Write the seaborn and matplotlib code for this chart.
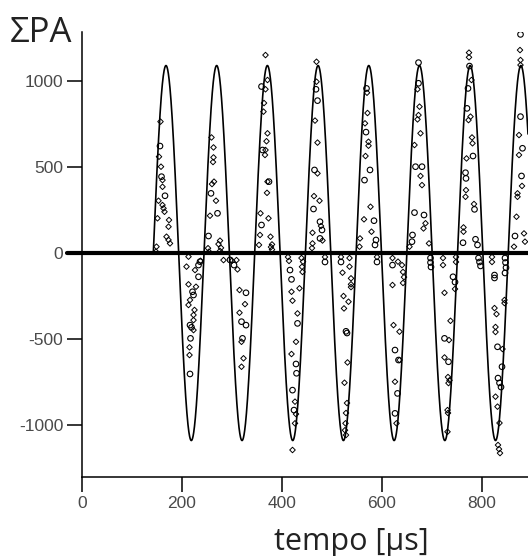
import numpy as np
import seaborn as sns
import matplotlib
matplotlib.use("Agg")
import matplotlib.pyplot as plt

# fitted sinusoid
amplitude = 1090
period = 101.4        # us
t_start = 142.6       # us, curve begins here going up
t_end = 892

# measured points, small diamonds
diamond_t = [
    157, 154, 158, 161, 161, 153, 161, 163, 165, 151, 174, 173, 169, 173, 176, 149, 148,
    259, 263, 263, 262, 264, 260, 268, 256, 276, 273, 278, 252, 254, 276,
    367, 371, 367, 364, 363, 371, 369, 367, 366, 371, 370, 373, 357, 356, 377, 380, 354, 378, 380,
    469, 469, 466, 471, 471, 464, 475, 478, 461, 481, 461, 460,
    570, 571, 566, 573, 573, 567, 577, 564, 579, 556, 555,
    671, 675, 673, 671, 677, 665, 677, 680, 687, 683, 694, 655,
    774, 774, 779, 777, 773, 780, 781, 769, 768, 767, 784, 763, 763,
    876, 877, 877, 874, 874, 880, 871, 871, 869, 884, 886, 864,
    213, 237, 209, 226, 213, 228, 216, 213, 225, 223, 223, 223, 215, 215,
    283, 309, 300, 311, 315, 326, 315, 319, 323, 319,
    412, 414, 439, 442, 440, 441, 435, 419, 421, 431, 428, 419, 426, 428, 426, 421,
    486, 518, 535, 535, 521, 538, 538, 538, 523, 533, 524, 531, 525, 530, 528, 527, 526, 528,
    590, 621, 632, 621, 640, 642, 644, 642, 623, 635, 626, 629, 635,
    722, 722, 748, 748, 725, 746, 737, 734, 725, 732, 735, 733, 731, 732, 731,
    820, 820, 825, 829, 845, 845, 827, 827, 841, 827, 831, 835, 832, 834, 836,
]
diamond_v = [
    764, 560, 502, 424, 385, 304, 279, 260, 240, 202, 192, 153, 95, 76, 56, 37, 8,
    672, 614, 556, 529, 415, 401, 304, 217, 72, 52, 30, 28, 8, 12,
    1151, 1006, 952, 872, 822, 696, 650, 599, 570, 415, 350, 202, 231, 105, 95, 50, 47, 35, 20,
    1112, 996, 770, 642, 463, 331, 304, 157, 118, 73, 56, 29,
    932, 814, 754, 647, 624, 564, 269, 196, 124, 85, 37,
    952, 851, 802, 777, 696, 628, 448, 395, 173, 143, 56, 37,
    1165, 1138, 1006, 793, 773, 672, 638, 550, 366, 327, 285, 149, 124,
    1180, 1122, 1093, 686, 570, 390, 347, 327, 211, 114, 66, 37,
    -21, -45, -79, -99, -182, -196, -273, -302, -331, -360, -390, -448, -548, -593,
    -41, -41, -45, -95, -215, -297, -347, -516, -612, -661,
    -23, -46, -29, -50, -80, -110, -205, -225, -277, -351, -516, -587, -864, -936, -990, -1145,
    -23, -23, -29, -79, -114, -147, -182, -198, -250, -283, -322, -636, -754, -872, -930, -990, -1030, -1058,
    -23, -29, -50, -186, -70, -110, -140, -174, -419, -457, -748, -990, -622,
    -29, -70, -23, -52, -231, -209, -394, -506, -607, -721, -740, -756, -913, -930, -1039,
    -23, -52, -320, -355, -273, -291, -430, -459, -558, -835, -893, -988, -1116, -1140, -1163,
]

# measured points, open circles
circle_t = [
    156, 159, 166,
    258, 271, 253,
    359, 361, 374, 359,
    468, 471, 465, 463, 476, 480, 476,
    569, 568, 576, 565, 584, 588, 586,
    673, 673, 667, 680, 665, 684, 661, 660,
    775, 772, 770, 782, 767, 768, 785, 762, 787, 791,
    877, 877, 881, 879, 866,
    236, 233, 233, 221, 223, 216, 219, 217, 216,
    296, 304, 328, 319, 328, 321,
    416, 419, 431, 428, 429, 421, 424,
    486, 518, 528, 530,
    590, 621, 626, 633, 631, 626,
    697, 697, 698, 742, 746, 725, 733,
    793, 795, 797, 846, 847, 848, 846, 825, 825, 831, 840, 832, 835, 838,
]
circle_v = [
    622, 444, 333,
    347, 231, 99,
    968, 599, 415, 163,
    952, 886, 483, 256, 182, 134, 85,
    957, 703, 483, 424, 188, 76, 47,
    1107, 987, 502, 502, 235, 221, 105, 66,
    1087, 957, 841, 564, 467, 434, 254, 60, 80, 47,
    1271, 793, 609, 448, 99,
    -50, -70, -138, -225, -244, -419, -432, -496, -703,
    -40, -70, -231, -399, -419, -496,
    -99, -153, -409, -645, -699, -797, -913,
    -52, -52, -455, -465,
    -52, -70, -564, -622, -816, -932,
    -29, -55, -81, -138, -169, -496, -632,
    -29, -52, -75, -29, -55, -85, -116, -128, -145, -545, -661, -727, -755, -779,
]

x_ticks = [0, 200, 400, 600, 800]
y_ticks = [-1000, -500, 0, 500, 1000]

sns.set_style("ticks")
plt.rcParams["font.family"] = ["Liberation Sans", "DejaVu Sans"]
plt.rcParams["axes.unicode_minus"] = False

fig = plt.figure(figsize=(5.28, 5.56), dpi=100)
ax = fig.add_axes([82 / 528, 79 / 556, 446 / 528, 445 / 556])

t_curve = np.linspace(t_start, t_end, 6000)
v_curve = amplitude * np.sin(2 * np.pi * (t_curve - t_start) / period)
ax.plot(t_curve, v_curve, color="black", lw=1.2, zorder=2)

sns.scatterplot(x=diamond_t, y=diamond_v, ax=ax, marker="D", s=8,
                facecolors="none", edgecolor="black", linewidth=0.7, zorder=3)
sns.scatterplot(x=circle_t, y=circle_v, ax=ax, marker="o", s=16,
                facecolors="none", edgecolor="black", linewidth=0.8, zorder=3)

# thick zero line, runs out over the 0 tick
ax.axhline(0, xmin=-15 / 446, xmax=1, color="black", lw=3, clip_on=False, zorder=4)

ax.set_xlim(0, 892)
ax.set_ylim(-1302, 1285)
ax.set_xticks(x_ticks)
ax.set_yticks(y_ticks)
ax.tick_params(direction="out", length=10.5, width=1.1, colors="black",
               labelcolor="#4a4a4a", labelsize=12.5, pad=3)
for side in ["top", "right"]:
    ax.spines[side].set_visible(False)
for side in ["left", "bottom"]:
    ax.spines[side].set_linewidth(1.1)
    ax.spines[side].set_color("black")
ax.set_xlabel("")
ax.set_ylabel("")

fig.text(10 / 528, 1 - 42 / 556, "ΣPA", fontsize=25, ha="left", va="baseline",
         family=["Open Sans", "DejaVu Sans"], color="#222222")
fig.text(351 / 528, 1 - 550 / 556, "tempo [μs]", fontsize=22, ha="center", va="baseline",
         family=["Open Sans", "DejaVu Sans"], color="#222222")

fig.savefig("out.png", dpi=100)
